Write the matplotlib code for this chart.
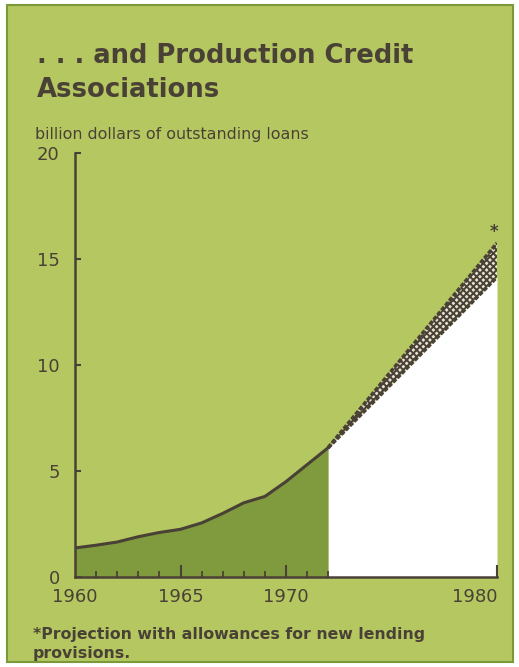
import matplotlib.pyplot as plt
from matplotlib.patches import Rectangle

# Production Credit Associations, outstanding loans (billion dollars)
years = [1960, 1961, 1962, 1963, 1964, 1965, 1966, 1967, 1968, 1969, 1970, 1971, 1972]
loans = [1.37, 1.5, 1.65, 1.9, 2.1, 2.25, 2.55, 3.0, 3.5, 3.8, 4.5, 5.3, 6.1]

# projection band to 1980
proj_years = [1972, 1980]
proj_high = [6.1, 15.75]
proj_low = [6.1, 14.15]

yticks = [0, 5, 10, 15, 20]
xticks = [1960, 1965, 1970, 1980]

bg = '#b5c760'
dark_fill = '#7f9b3e'
ink = '#4a4136'

plt.rcParams['hatch.linewidth'] = 1.4
plt.rcParams['font.family'] = ['DejaVu Sans']

W, H = 519, 667
fig = plt.figure(figsize=(W / 100, H / 100), dpi=100)
fig.patch.set_facecolor('white')

# green panel with a darker frame
fig.patches.append(Rectangle((7 / W, 5 / H), 506 / W, 657 / H, transform=fig.transFigure,
                             facecolor=bg, edgecolor='#7a9a3a', linewidth=1.5, zorder=-1))

ax = fig.add_axes([75 / W, 90 / H, 422 / W, 424 / H])
ax.set_facecolor('none')
ax.set_zorder(2)

ax.fill_between(years, 0, loans, color=dark_fill, linewidth=0, zorder=1)
ax.plot(years, loans, color=ink, linewidth=2.2, solid_capstyle='round', zorder=3)

ax.fill_between(proj_years, 0, proj_low, color='white', linewidth=0, zorder=1)
ax.fill_between(proj_years, proj_low, proj_high, facecolor='#e6e2d2', edgecolor=ink,
                hatch='xxxxx', linewidth=0, zorder=2)
ax.plot(proj_years, proj_high, color=ink, linewidth=2.6, linestyle=(0, (1.2, 0.5)), zorder=3)
ax.plot(proj_years, proj_low, color=ink, linewidth=2.6, linestyle=(0, (1.2, 0.5)), zorder=3)
ax.text(1979.85, 16.25, '*', color=ink, fontsize=12, fontweight='bold', ha='center', va='center')

ax.set_xlim(1960, 1980)
ax.set_ylim(0, 20)

for side in ['top', 'right']:
    ax.spines[side].set_visible(False)
for side in ['left', 'bottom']:
    ax.spines[side].set_color(ink)
    ax.spines[side].set_linewidth(1.8)
    ax.spines[side].set_zorder(4)

ax.set_yticks(yticks)
ax.set_xticks(xticks)
ax.set_xticks(list(range(1961, 1973)), minor=True)

ax.tick_params(axis='y', direction='in', length=4.5, width=1.5, color=ink,
               labelcolor=ink, labelsize=13, pad=11)
ax.tick_params(axis='x', which='major', direction='in', length=8.5, width=1.5, color=ink,
               labelcolor=ink, labelsize=13, pad=8)
ax.tick_params(axis='x', which='minor', direction='in', length=4, width=1.3, color=ink)
ax.xaxis.get_majorticklabels()[-1].set_horizontalalignment('right')
ax.xaxis.get_majorticklines()[0].set_visible(False)

fig.text(37 / W, 1 - 63 / H, '. . . and Production Credit', color=ink, fontsize=18.6,
         fontweight='bold', va='baseline')
fig.text(37 / W, 1 - 97 / H, 'Associations', color=ink, fontsize=18.6,
         fontweight='bold', va='baseline')
fig.text(35 / W, 1 - 139 / H, 'billion dollars of outstanding loans', color=ink,
         fontsize=11.4, va='baseline')
fig.text(33 / W, 1 - 639 / H, '*Projection with allowances for new lending', color=ink,
         fontsize=11.3, fontweight='bold', va='baseline')
fig.text(33 / W, 1 - 658 / H, 'provisions.', color=ink,
         fontsize=11.3, fontweight='bold', va='baseline')

fig.savefig('out.png', dpi=100, facecolor=fig.get_facecolor())
